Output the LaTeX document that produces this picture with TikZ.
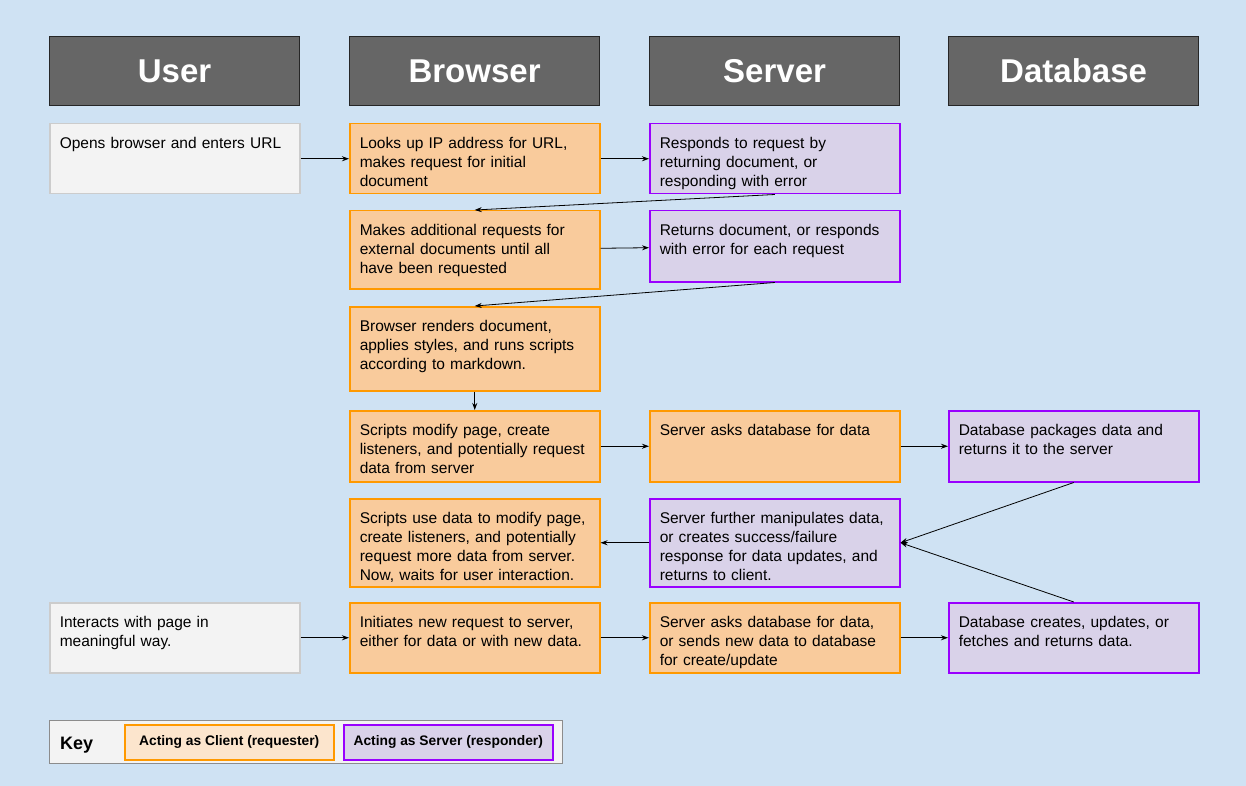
\documentclass[tikz,border=0pt]{standalone}
\usepackage{fontspec}
\setmainfont{Liberation Sans}
\usetikzlibrary{arrows.meta,positioning}
\definecolor{bg}{HTML}{CFE2F3}
\definecolor{hdr}{HTML}{666666}
\definecolor{usrfill}{HTML}{F3F3F3}
\definecolor{usrline}{HTML}{CCCCCC}
\definecolor{cfill}{HTML}{F9CB9C}
\definecolor{cline}{HTML}{FF9900}
\definecolor{keyfill}{HTML}{FCE5CD}
\definecolor{sfill}{HTML}{D9D2E9}
\definecolor{sline}{HTML}{9900FF}

\begin{document}
\begin{tikzpicture}[x=1pt, y=-1pt, >={Stealth[length=7pt,width=5pt]},
    head/.style={draw=black!85, line width=1.2pt, fill=hdr, text=white, anchor=north west,
      minimum width=250pt, minimum height=69pt, inner sep=0pt,
      font=\fontsize{33}{36}\selectfont\bfseries},
    cell/.style={anchor=north west, line width=1.5pt, text width=230pt, align=left,
      inner xsep=10pt, inner ysep=10pt, text height=15pt,
      font=\fontsize{15.5}{19}\selectfont},
    usr/.style={cell, draw=usrline, fill=usrfill},
    cli/.style={cell, draw=cline, fill=cfill},
    srv/.style={cell, draw=sline, fill=sfill},
    keybox/.style={anchor=north west, line width=1.5pt, minimum width=209pt, minimum height=35pt,
      inner sep=0pt, font=\fontsize{13.8}{16}\selectfont\bfseries},
    flow/.style={->, line width=0.8pt}]
        \fill[bg] (0,0) rectangle (1246,786);
        \node[head] (huser) at (49,36) {User};
        \node[head] (hbrowser) at (349,36) {Browser};
        \node[head] (hserver) at (649,36) {Server};
        \node[head] (hdb) at (948,36) {Database};

        \node[usr, text depth=35pt] (u1) at (49,123) {Opens browser and enters URL};
        \node[cli, text depth=35pt] (b1) at (349,123) {Looks up IP address for URL,\\makes request for initial\\document};
        \node[srv, text depth=35pt] (s1) at (649,123) {Responds to request by\\returning document, or\\responding with error};

        \node[cli, text depth=43pt] (b2) at (349,210) {Makes additional requests for\\external documents until all\\have been requested};
        \node[srv, text depth=36pt] (s2) at (649,210) {Returns document, or responds\\with error for each request};

        \node[cli, text depth=49pt] (b3) at (349,306) {Browser renders document,\\applies styles, and runs scripts\\according to markdown.};

        \node[cli, text depth=36pt] (b4) at (349,410) {Scripts modify page, create\\listeners, and potentially request\\data from server};
        \node[cli, text depth=36pt] (s4) at (649,410) {Server asks database for data};
        \node[srv, text depth=36pt] (d4) at (948,410) {Database packages data and\\returns it to the server};

        \node[cli, text depth=53pt] (b5) at (349,498) {Scripts use data to modify page,\\create listeners, and potentially\\request more data from server.\\Now, waits for user interaction.};
        \node[srv, text depth=53pt] (s5) at (649,498) {Server further manipulates data,\\or creates success/failure\\response for data updates, and\\returns to client.};

        \node[usr, text depth=35pt] (u6) at (49,602) {Interacts with page in\\meaningful way.};
        \node[cli, text depth=35pt] (b6) at (349,602) {Initiates new request to server,\\either for data or with new data.};
        \node[cli, text depth=35pt] (s6) at (649,602) {Server asks database for data,\\or sends new data to database\\for create/update};
        \node[srv, text depth=35pt] (d6) at (948,602) {Database creates, updates, or\\fetches and returns data.};

        \draw[flow] (u1) -- (b1);
        \draw[flow] (b1) -- (s1);
        \draw[flow] (s1.south) -- (b2.north);
        \draw[flow] (b2) -- (s2);
        \draw[flow] (s2.south) -- (b3.north);
        \draw[flow] (b3) -- (b4);
        \draw[flow] (b4) -- (s4);
        \draw[flow] (s4) -- (d4);
        \draw[flow] (d4.south) -- (s5.east);
        \draw[flow] (d6.north) -- (s5.east);
        \draw[flow] (s5) -- (b5);
        \draw[flow] (u6) -- (b6);
        \draw[flow] (b6) -- (s6);
        \draw[flow] (s6) -- (d6);

        \node[draw=black!45, fill=usrfill, line width=1pt, anchor=north west, inner sep=0pt,
          minimum width=513pt, minimum height=43pt] (key) at (49,720) {};
        \node[anchor=base west, inner sep=0pt, font=\fontsize{18}{20}\selectfont\bfseries] (keyname) at (60,749) {Key};
        \node[keybox, draw=cline, fill=keyfill] (keycli) at (124,724) {Acting as Client (requester)};
        \node[keybox, draw=sline, fill=sfill] (keysrv) at (343,724) {Acting as Server (responder)};
    \end{tikzpicture}
\end{document}
